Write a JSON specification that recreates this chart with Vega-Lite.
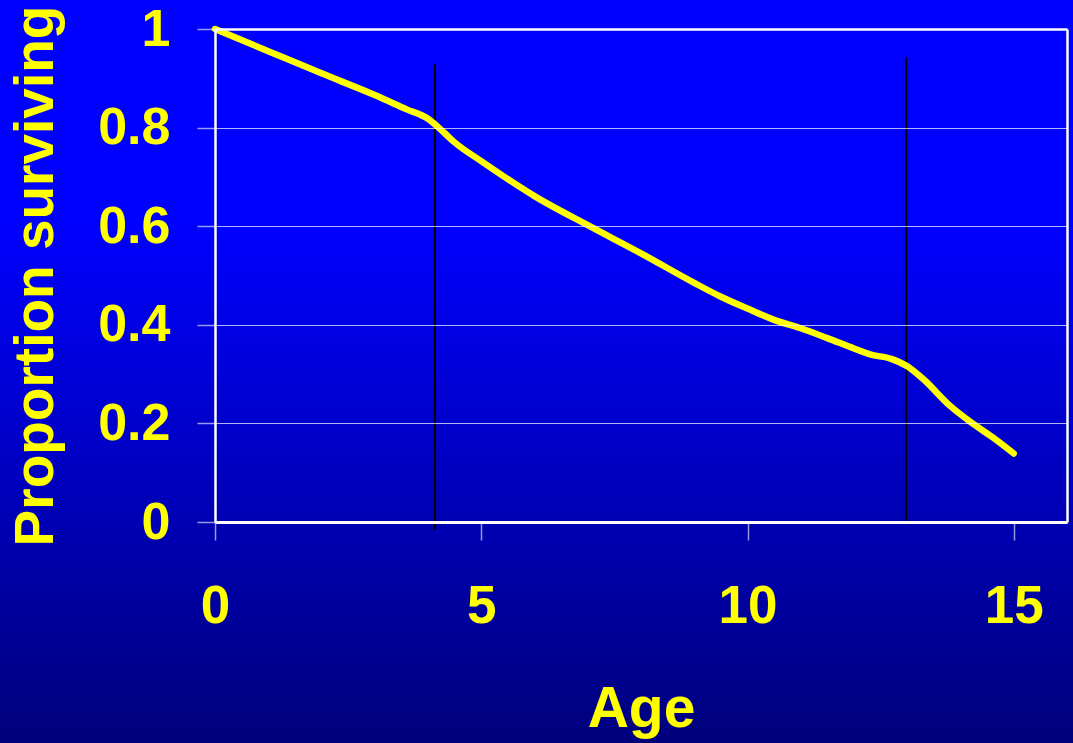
{
  "$schema": "https://vega.github.io/schema/vega-lite/v6.json",
  "width": 852,
  "height": 493,
  "autosize": {"type": "none"},
  "padding": {"left": 215, "top": 29, "right": 6, "bottom": 221},
  "background": "#0000C0",
  "config": {
    "view": {"stroke": null},
    "font": "Liberation Sans"
  },
  "resolve": {"axis": {"x": "independent", "y": "independent"}},
  "layer": [
    {
      "data": {"values": [{"part": "background"}]},
      "mark": {
        "type": "rect",
        "clip": false,
        "fill": {
          "gradient": "linear",
          "x1": 0, "y1": 0, "x2": 0, "y2": 1,
          "stops": [
            {"offset": 0, "color": "#0000FF"},
            {"offset": 0.3, "color": "#0000FF"},
            {"offset": 1, "color": "#00007A"}
          ]
        }
      },
      "encoding": {
        "x": {"datum": -4.1, "type": "quantitative",
          "scale": {"domain": [0, 16], "nice": false, "zero": false},
          "axis": {"orient": "top", "labels": false, "ticks": false, "grid": false, "domain": true, "domainColor": "white", "domainWidth": 2.5, "title": null, "zindex": 1}},
        "x2": {"datum": 16.2},
        "y": {"datum": 1.07, "type": "quantitative",
          "scale": {"domain": [0, 1], "nice": false, "zero": false},
          "axis": {"orient": "right", "labels": false, "ticks": false, "grid": false, "domain": true, "domainColor": "white", "domainWidth": 2.5, "title": null, "zindex": 1}},
        "y2": {"datum": -0.46}
      }
    },
    {
      "data": {"values": [
        {"age": 4.13, "top": 0.928, "bottom": -0.016},
        {"age": 12.98, "top": 0.942, "bottom": 0}
      ]},
      "mark": {"type": "rule", "color": "black", "strokeWidth": 2},
      "encoding": {
        "x": {"field": "age", "type": "quantitative", "axis": null},
        "y": {"field": "top", "type": "quantitative", "axis": null},
        "y2": {"field": "bottom"}
      }
    },
    {
      "data": {"values": [
        {"age": 0, "surviving": 1.0},
        {"age": 1, "surviving": 0.955},
        {"age": 2, "surviving": 0.91},
        {"age": 3, "surviving": 0.866},
        {"age": 3.6, "surviving": 0.837},
        {"age": 4.0, "surviving": 0.818},
        {"age": 4.3, "surviving": 0.79},
        {"age": 4.5, "surviving": 0.77},
        {"age": 5, "surviving": 0.732},
        {"age": 6, "surviving": 0.661},
        {"age": 7, "surviving": 0.602},
        {"age": 8, "surviving": 0.545},
        {"age": 9, "surviving": 0.485},
        {"age": 9.5, "surviving": 0.457},
        {"age": 10, "surviving": 0.433},
        {"age": 10.5, "surviving": 0.41},
        {"age": 11, "surviving": 0.393},
        {"age": 11.5, "surviving": 0.373},
        {"age": 12, "surviving": 0.352},
        {"age": 12.3, "surviving": 0.34},
        {"age": 12.7, "surviving": 0.331},
        {"age": 13, "surviving": 0.316},
        {"age": 13.3, "surviving": 0.29},
        {"age": 13.8, "surviving": 0.236},
        {"age": 14.2, "surviving": 0.202},
        {"age": 14.6, "surviving": 0.172},
        {"age": 15, "surviving": 0.139}
      ]},
      "mark": {"type": "line", "color": "#FFFF00", "strokeWidth": 6.5, "interpolate": "monotone", "strokeCap": "round", "strokeJoin": "round"},
      "encoding": {
        "x": {"field": "age", "type": "quantitative",
          "axis": {
            "values": [0, 5, 10, 15], "format": "~g",
            "title": "Age", "grid": false, "zindex": 1,
            "domainColor": "white", "domainWidth": 3,
            "tickColor": "white", "tickOpacity": 0.6, "tickSize": 18, "tickWidth": 1.5,
            "labelColor": "#FFFF00", "labelFont": "Liberation Sans", "labelFontSize": 53, "labelFontWeight": "bold", "labelPadding": 40,
            "labelFlush": false, "labelOverlap": false,
            "titleColor": "#FFFF00", "titleFont": "Liberation Sans", "titleFontSize": 57, "titleFontWeight": "bold", "titlePadding": 48
          }},
        "y": {"field": "surviving", "type": "quantitative",
          "axis": {
            "values": [0, 0.2, 0.4, 0.6, 0.8, 1], "format": "~g",
            "title": "Proportion surviving", "grid": true, "zindex": 1,
            "gridColor": "white", "gridOpacity": 0.7, "gridWidth": 1,
            "domainColor": "white", "domainWidth": 2.5,
            "tickColor": "white", "tickOpacity": 0.6, "tickSize": 18, "tickWidth": 1.5,
            "labelColor": "#FFFF00", "labelFont": "Liberation Sans", "labelFontSize": 52, "labelFontWeight": "bold", "labelPadding": 27,
            "labelFlush": false, "labelOverlap": false,
            "titleColor": "#FFFF00", "titleFont": "Liberation Sans", "titleFontSize": 55, "titleFontWeight": "bold", "titlePadding": 33
          }}
      }
    }
  ]
}
